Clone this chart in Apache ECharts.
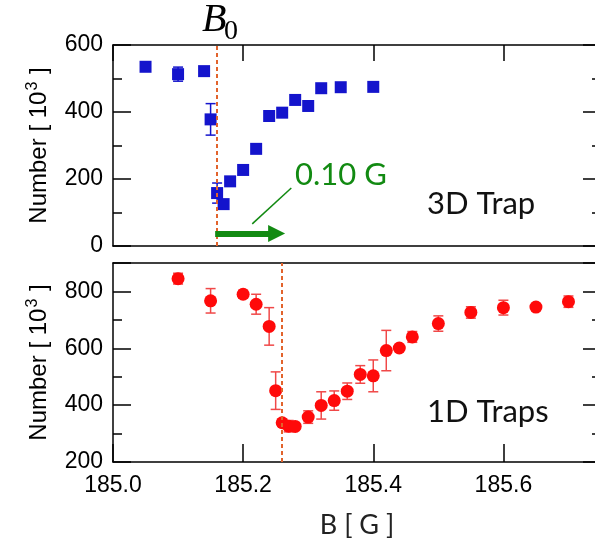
<!DOCTYPE html>
<html>
<head>
<meta charset="utf-8">
<script src="https://cdn.jsdelivr.net/npm/echarts/dist/echarts.min.js"></script>
<style>
  html, body { margin: 0; padding: 0; background: #fff; overflow: hidden; }
  #chart { width: 610px; height: 540px; }
</style>
</head>
<body>
<div id="chart"></div>
<script>
// field values in G, atom numbers in 10^3
const B0 = 185.157;
const shift = 0.10;

const trap3dB   = [185.05, 185.10, 185.14, 185.15, 185.16, 185.17, 185.18, 185.20, 185.22, 185.24, 185.26, 185.28, 185.30, 185.32, 185.35, 185.40];
const trap3dN   = [535, 513, 522, 378, 158, 125, 193, 227, 290, 388, 398, 436, 418, 471, 474, 475];
const trap3dErr = [5, 21, 6, 47, 30, 6, 5, 5, 10, 6, 12, 6, 10, 5, 12, 5];

const trap1dB   = [185.10, 185.15, 185.20, 185.22, 185.24, 185.25, 185.26, 185.27, 185.28, 185.30, 185.32, 185.34, 185.36, 185.38, 185.40, 185.42, 185.44, 185.46, 185.50, 185.55, 185.60, 185.65, 185.70];
const trap1dN   = [845, 767, 790, 755, 677, 451, 338, 326, 325, 358, 399, 416, 449, 508, 503, 592, 601, 640, 687, 726, 743, 745, 764];
const trap1dErr = [19, 43, 14, 35, 66, 66, 12, 20, 10, 22, 48, 34, 29, 31, 56, 71, 8, 19, 27, 20, 26, 8, 20];

const xTicks = [185.0, 185.2, 185.4, 185.6];

const blue = '#1414cc';
const red = '#ff0a0a';
const redBar = '#f04848';
const green = '#128a12';
const orange = '#e2632c';

const tickFont = { fontFamily: 'Liberation Sans', fontSize: 23, color: '#000' };

function errorBars(xs, ys, es, color, xi, yi) {
  return {
    type: 'custom',
    xAxisIndex: xi,
    yAxisIndex: yi,
    silent: true,
    z: 2,
    data: xs.map((x, i) => [x, ys[i] - es[i], ys[i] + es[i]]),
    renderItem: function (params, api) {
      const lo = api.coord([api.value(0), api.value(1)]);
      const hi = api.coord([api.value(0), api.value(2)]);
      const w = 5;
      const st = { stroke: color, lineWidth: 1.5 };
      return {
        type: 'group',
        children: [
          { type: 'line', shape: { x1: lo[0], y1: lo[1], x2: hi[0], y2: hi[1] }, style: st },
          { type: 'line', shape: { x1: lo[0] - w, y1: lo[1], x2: lo[0] + w, y2: lo[1] }, style: st },
          { type: 'line', shape: { x1: hi[0] - w, y1: hi[1], x2: hi[0] + w, y2: hi[1] }, style: st }
        ]
      };
    }
  };
}

const axisLine = { show: true, onZero: false, lineStyle: { color: '#000', width: 1.5 } };
const tickIn = (len) => ({ show: true, inside: true, length: len, lineStyle: { color: '#000', width: 1.5 } });
const minorIn = { show: true, splitNumber: 2, length: 9, lineStyle: { color: '#000', width: 1.5 } };

function xAxisFor(grid, pos, ticks, labels) {
  return {
    type: 'value', gridIndex: grid, position: pos,
    min: 185.0, max: 185.75, interval: 0.2,
    axisLine: axisLine,
    axisTick: ticks ? tickIn(ticks) : { show: false },
    axisLabel: labels ? Object.assign({
      show: true, margin: 12, showMaxLabel: false,
      formatter: (v) => xTicks.some(t => Math.abs(t - v) < 1e-6) ? v.toFixed(1) : ''
    }, tickFont) : { show: false },
    splitLine: { show: false }
  };
}

function yAxisFor(grid, pos, min, max, labels) {
  const ax = {
    type: 'value', gridIndex: grid, position: pos,
    min: min, max: max, interval: 200,
    axisLine: axisLine,
    axisTick: tickIn(18),
    minorTick: minorIn,
    axisLabel: labels ? Object.assign({ show: true, margin: 10, showMaxLabel: max % 200 === 0 }, tickFont) : { show: false },
    splitLine: { show: false }
  };
  if (labels) {
    ax.name = '{n|Number [ 10}{s|3}{n| ]}';
    ax.nameLocation = 'middle';
    ax.nameGap = 60;
    ax.nameTextStyle = {
      color: '#000',
      rich: {
        n: { fontFamily: 'Liberation Sans', fontSize: 24, color: '#000' },
        s: { fontFamily: 'Liberation Sans', fontSize: 16, color: '#000', padding: [0, 1, 12, 1] }
      }
    };
  }
  return ax;
}

const chart = echarts.init(document.getElementById('chart'), null, { renderer: 'canvas' });

chart.setOption({
  animation: false,
  backgroundColor: '#fff',
  grid: [
    { left: 113, top: 45, width: 488, height: 201 },
    { left: 113, top: 263, width: 488, height: 200 }
  ],
  xAxis: [
    xAxisFor(0, 'bottom', 0, false),
    xAxisFor(0, 'top', 16, false),
    Object.assign(xAxisFor(1, 'bottom', 18, true), {
      name: 'B [ G ]', nameLocation: 'middle', nameGap: 50,
      nameTextStyle: { fontFamily: 'Lato', fontSize: 27, color: '#222' }
    }),
    xAxisFor(1, 'top', 0, false)
  ],
  yAxis: [
    yAxisFor(0, 'left', 0, 600, true),
    yAxisFor(0, 'right', 0, 600, false),
    yAxisFor(1, 'left', 200, 900, true),
    yAxisFor(1, 'right', 200, 900, false)
  ],
  graphic: [
    { type: 'text', left: 202, top: 0, style: { text: 'B', font: 'italic 40px "Liberation Serif"', fill: '#000' } },
    { type: 'text', left: 224, top: 18, style: { text: '0', font: '28px "Liberation Serif"', fill: '#000' } },
    { type: 'text', left: 295, top: 159, style: { text: '0.10 G', font: '31px Lato', fill: green } },
    { type: 'text', left: 427, top: 188, style: { text: '3D Trap', font: '31px Lato', fill: '#111' } },
    { type: 'text', left: 427, top: 396, style: { text: '1D Traps', font: '31px Lato', fill: '#111' } }
  ],
  series: [
    errorBars(trap3dB, trap3dN, trap3dErr, blue, 0, 0),
    {
      type: 'scatter', xAxisIndex: 0, yAxisIndex: 0, z: 3,
      symbol: 'rect', symbolSize: 12,
      itemStyle: { color: blue, opacity: 1 },
      data: trap3dB.map((b, i) => [b, trap3dN[i]]),
      markLine: {
        silent: true, symbol: 'none', label: { show: false },
        data: [
          { xAxis: B0, lineStyle: { color: orange, type: [4, 3], width: 2 } },
          [
            { coord: [B0, 37], symbol: 'none', lineStyle: { color: green, type: 'solid', width: 6 } },
            { coord: [B0 + 0.0945, 37], symbol: 'triangle', symbolSize: [17, 17] }
          ],
          [
            { coord: [185.214, 66], symbol: 'none', lineStyle: { color: green, type: 'solid', width: 1.5 } },
            { coord: [185.274, 173], symbol: 'none' }
          ]
        ]
      }
    },
    errorBars(trap1dB, trap1dN, trap1dErr, redBar, 2, 2),
    {
      type: 'scatter', xAxisIndex: 2, yAxisIndex: 2, z: 3,
      symbol: 'circle', symbolSize: 13,
      itemStyle: { color: red, opacity: 1 },
      data: trap1dB.map((b, i) => [b, trap1dN[i]]),
      markLine: {
        silent: true, symbol: 'none', label: { show: false },
        data: [
          { xAxis: B0 + shift, lineStyle: { color: orange, type: [4, 3], width: 2 } }
        ]
      }
    }
  ]
});
</script>
</body>
</html>
